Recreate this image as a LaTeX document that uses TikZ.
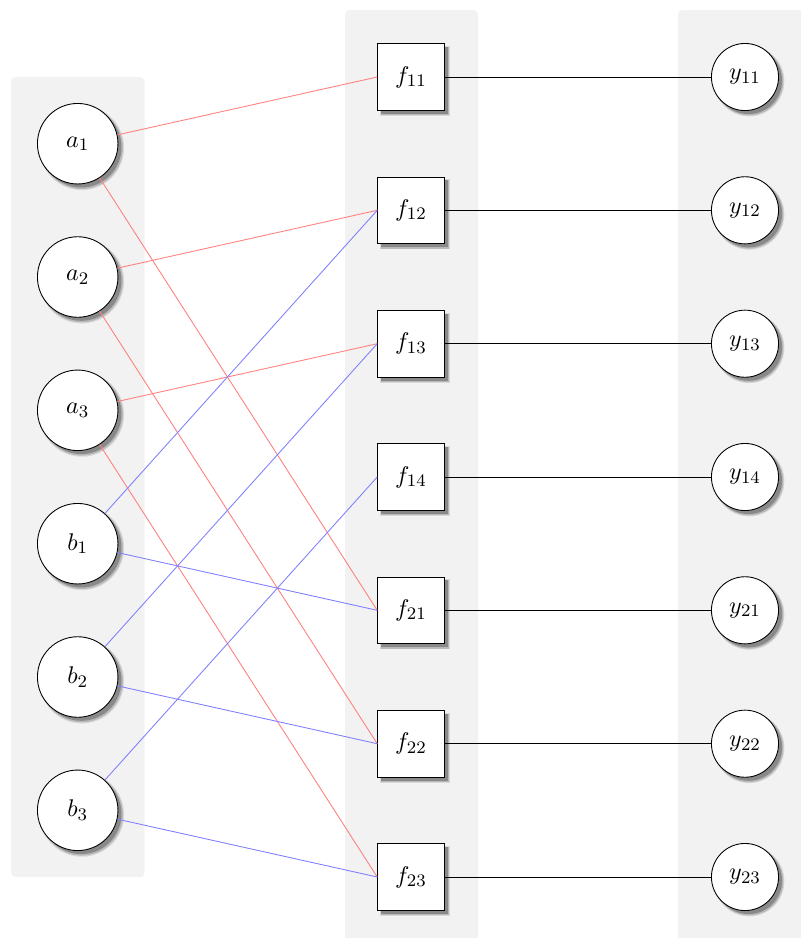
\documentclass[tikz,border=0pt]{standalone}
\usetikzlibrary{shadows}
\tikzset{
  panel/.style={fill=gray!10, draw=none, rounded corners=2pt},
  softshadow/.style={
    drop shadow={shadow xshift=1.8pt, shadow yshift=-1.8pt, shadow scale=1.05, opacity=0.10, fill=black},
    drop shadow={shadow xshift=1.8pt, shadow yshift=-1.8pt, shadow scale=1.025, opacity=0.15, fill=black},
    drop shadow={shadow xshift=1.6pt, shadow yshift=-1.6pt, shadow scale=1.0, opacity=0.25, fill=black}
  },
  invar/.style={circle, draw, fill=white, minimum size=36.6pt, inner sep=0pt, softshadow},
  fbox/.style={rectangle, draw, fill=white, minimum size=30.3pt, inner sep=0pt, softshadow},
  outvar/.style={circle, draw, fill=white, minimum size=30.5pt, inner sep=0pt, softshadow},
  redline/.style={red!50},
  blueline/.style={blue!50},
  blackline/.style={black},
  every node/.style={font=\fontsize{11}{13}\selectfont}
}
\begin{document}
\begin{tikzpicture}[x=0.4545pt, y=-0.4545pt]
\useasboundingbox (0,0) rectangle (801,938);
\clip (0,0) rectangle (801,938);
% panels
\path[panel] (11,77) rectangle (144.5,877);
\path[panel] (345,10) rectangle (478,950);
\path[panel] (678,10) rectangle (811,950);
% left nodes
\node[invar] (a1) at (77.7,143.7) {$a_1$};
\node[invar] (a2) at (77.7,277) {$a_2$};
\node[invar] (a3) at (77.7,410.3) {$a_3$};
\node[invar] (b1) at (77.7,543.7) {$b_1$};
\node[invar] (b2) at (77.7,677) {$b_2$};
\node[invar] (b3) at (77.7,810.3) {$b_3$};
% middle nodes
\node[fbox] (f11) at (411,77) {$f_{11}$};
\node[fbox] (f12) at (411,210.3) {$f_{12}$};
\node[fbox] (f13) at (411,343.7) {$f_{13}$};
\node[fbox] (f14) at (411,477) {$f_{14}$};
\node[fbox] (f21) at (411,610.3) {$f_{21}$};
\node[fbox] (f22) at (411,743.7) {$f_{22}$};
\node[fbox] (f23) at (411,877) {$f_{23}$};
% right nodes
\node[outvar] (y11) at (745,77) {$y_{11}$};
\node[outvar] (y12) at (745,210.3) {$y_{12}$};
\node[outvar] (y13) at (745,343.7) {$y_{13}$};
\node[outvar] (y14) at (745,477) {$y_{14}$};
\node[outvar] (y21) at (745,610.3) {$y_{21}$};
\node[outvar] (y22) at (745,743.7) {$y_{22}$};
\node[outvar] (y23) at (745,877) {$y_{23}$};
% edges
\draw[redline] (a1) -- (f11.west);
\draw[redline] (a1) -- (f21.west);
\draw[redline] (a2) -- (f12.west);
\draw[redline] (a2) -- (f22.west);
\draw[redline] (a3) -- (f13.west);
\draw[redline] (a3) -- (f23.west);
\draw[blueline] (b1) -- (f12.west);
\draw[blueline] (b1) -- (f21.west);
\draw[blueline] (b2) -- (f13.west);
\draw[blueline] (b2) -- (f22.west);
\draw[blueline] (b3) -- (f14.west);
\draw[blueline] (b3) -- (f23.west);
\draw[blackline] (f11) -- (y11);
\draw[blackline] (f12) -- (y12);
\draw[blackline] (f13) -- (y13);
\draw[blackline] (f14) -- (y14);
\draw[blackline] (f21) -- (y21);
\draw[blackline] (f22) -- (y22);
\draw[blackline] (f23) -- (y23);
\end{tikzpicture}
\end{document}
